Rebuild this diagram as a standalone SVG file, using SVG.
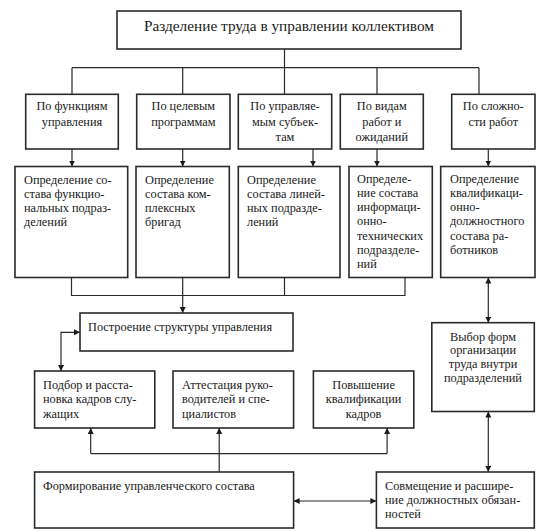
<svg xmlns="http://www.w3.org/2000/svg" width="543" height="532" viewBox="0 0 543 532">
<style>
.box{fill:#fff;stroke:#2a2a2a;stroke-width:1.6}
.ln{fill:none;stroke:#2a2a2a;stroke-width:1.2}
.txt text{font-size:12.3px;fill:#1a1a1a}
.c{text-anchor:middle}
.txt .t{font-size:15.3px}
</style>
<defs>
<marker id="ah" markerUnits="userSpaceOnUse" markerWidth="8" markerHeight="8" refX="6" refY="3" orient="auto-start-reverse">
<path d="M0,0 L6,3 L0,6 z" fill="#1a1a1a"/>
</marker>
</defs>
<rect width="543" height="532" fill="#fff"/>
<g id="connectors">
<path class="ln" d="M284.5,49 V67.7 M72,67.7 H479 M72,67.7 V94.3 M182.7,67.7 V94.3 M284.5,67.7 V94.3 M377,67.7 V94.3 M479,67.7 V94.3"/>
<path class="ln" marker-end="url(#ah)" d="M72,149 V166.5"/>
<path class="ln" marker-end="url(#ah)" d="M182.7,149 V166.5"/>
<path class="ln" marker-end="url(#ah)" d="M313,149 V166.5"/>
<path class="ln" marker-end="url(#ah)" d="M377,149 V166.5"/>
<path class="ln" marker-end="url(#ah)" d="M488.3,149 V166.5"/>
<path class="ln" d="M71.5,277.5 V295.5 H405 V277.5 M284.5,277.5 V295.5"/>
<path class="ln" marker-end="url(#ah)" d="M182.7,277.5 V313"/>
<path class="ln" marker-start="url(#ah)" marker-end="url(#ah)" d="M80,332.3 H61 V371"/>
<path class="ln" marker-start="url(#ah)" marker-end="url(#ah)" d="M488.3,277.5 V322.7"/>
<path class="ln" marker-start="url(#ah)" marker-end="url(#ah)" d="M488.3,411.5 V472"/>
<path class="ln" d="M90.7,453.6 H387.1"/>
<path class="ln" marker-end="url(#ah)" d="M90.7,453.6 V428"/>
<path class="ln" marker-end="url(#ah)" d="M387.1,453.6 V428"/>
<path class="ln" marker-end="url(#ah)" d="M219.2,472 V428"/>
<path class="ln" marker-start="url(#ah)" marker-end="url(#ah)" d="M293.6,501 H376.4"/>
</g>
<g class="txt" font-family="'Liberation Serif', 'DejaVu Serif', 'Times New Roman', serif">
<g id="top">
<rect class="box" x="117" y="11" width="344" height="38"/>
<text class="c t" x="289" y="30.5">Разделение труда в управлении коллективом</text>
</g>
<g id="b1">
<rect class="box" x="25.7" y="94.3" width="92.6" height="54.7"/>
<text class="c" x="72" y="110">По функциям</text>
<text class="c" x="72" y="125.5">управления</text>
</g>
<g id="b2">
<rect class="box" x="136.7" y="94.3" width="93.3" height="54.7"/>
<text class="c" x="183.3" y="110">По целевым</text>
<text class="c" x="183.3" y="125.5">программам</text>
</g>
<g id="b3">
<rect class="box" x="238.3" y="94.3" width="93.4" height="54.7"/>
<text class="c" x="285" y="110">По управляе-</text>
<text class="c" x="285" y="125.5">мым субъек-</text>
<text class="c" x="285" y="140.5">там</text>
</g>
<g id="b4">
<rect class="box" x="340.3" y="94.3" width="83" height="54.7"/>
<text class="c" x="381.8" y="110">По видам</text>
<text class="c" x="381.8" y="125.5">работ и</text>
<text class="c" x="381.8" y="140.5">ожиданий</text>
</g>
<g id="b5">
<rect class="box" x="451.7" y="94.3" width="83.3" height="54.7"/>
<text class="c" x="493.3" y="110">По сложно-</text>
<text class="c" x="493.3" y="125.5">сти работ</text>
</g>
<g id="c1">
<rect class="box" x="15" y="166.5" width="112.7" height="111"/>
<text x="24" y="183.5">Определение со-</text>
<text x="24" y="197.7">става функцио-</text>
<text x="24" y="211.9">нальных подраз-</text>
<text x="24" y="226.1">делений</text>
</g>
<g id="c2">
<rect class="box" x="136" y="166.5" width="93.3" height="111"/>
<text x="145" y="183.5">Определение</text>
<text x="145" y="197.7">состава ком-</text>
<text x="145" y="211.9">плексных</text>
<text x="145" y="226.1">бригад</text>
</g>
<g id="c3">
<rect class="box" x="238.3" y="166.5" width="101.7" height="111"/>
<text x="247" y="183.5">Определение</text>
<text x="247" y="197.7">состава линей-</text>
<text x="247" y="211.9">ных подразде-</text>
<text x="247" y="226.1">лений</text>
</g>
<g id="c4">
<rect class="box" x="349" y="166.5" width="83.3" height="111"/>
<text x="357" y="182.5">Определе-</text>
<text x="357" y="196.8">ние состава</text>
<text x="357" y="211.1">информаци-</text>
<text x="357" y="225.4">онно-</text>
<text x="357" y="239.7">технических</text>
<text x="357" y="254">подразделе-</text>
<text x="357" y="268.3">ний</text>
</g>
<g id="c5">
<rect class="box" x="440.7" y="166.5" width="94.3" height="111"/>
<text x="450" y="182.5">Определение</text>
<text x="450" y="196.8">квалификаци-</text>
<text x="450" y="211.1">онно-</text>
<text x="450" y="225.4">должностного</text>
<text x="450" y="239.7">состава ра-</text>
<text x="450" y="254">ботников</text>
</g>
<g id="struct">
<rect class="box" x="80" y="313" width="213" height="38"/>
<text x="88" y="331">Построение структуры управления</text>
</g>
<g id="podbor">
<rect class="box" x="34.6" y="371" width="120.2" height="57"/>
<text x="43" y="389">Подбор и расста-</text>
<text x="43" y="403">новка кадров  слу-</text>
<text x="43" y="418">жащих</text>
</g>
<g id="attest">
<rect class="box" x="173" y="371" width="120.6" height="57"/>
<text x="182" y="389">Аттестация руко-</text>
<text x="182" y="403">водителей и спе-</text>
<text x="182" y="418">циалистов</text>
</g>
<g id="povysh">
<rect class="box" x="313.4" y="371" width="100.4" height="57"/>
<text class="c" x="363.6" y="389">Повышение</text>
<text class="c" x="363.6" y="403">квалификации</text>
<text class="c" x="363.6" y="418">кадров</text>
</g>
<g id="vybor">
<rect class="box" x="431.8" y="322.7" width="102.5" height="88.8"/>
<text class="c" x="483" y="340.5">Выбор форм</text>
<text class="c" x="483" y="354.3">организации</text>
<text class="c" x="483" y="368.1">труда внутри</text>
<text class="c" x="483" y="381.9">подразделений</text>
</g>
<g id="form">
<rect class="box" x="34.6" y="472" width="259" height="56"/>
<text x="43" y="490">Формирование управленческого состава</text>
</g>
<g id="sovm">
<rect class="box" x="376.4" y="472" width="157.9" height="56"/>
<text x="385" y="490">Совмещение и расшире-</text>
<text x="385" y="504">ние должностных обязан-</text>
<text x="385" y="518">ностей</text>
</g>
</g>
</svg>
